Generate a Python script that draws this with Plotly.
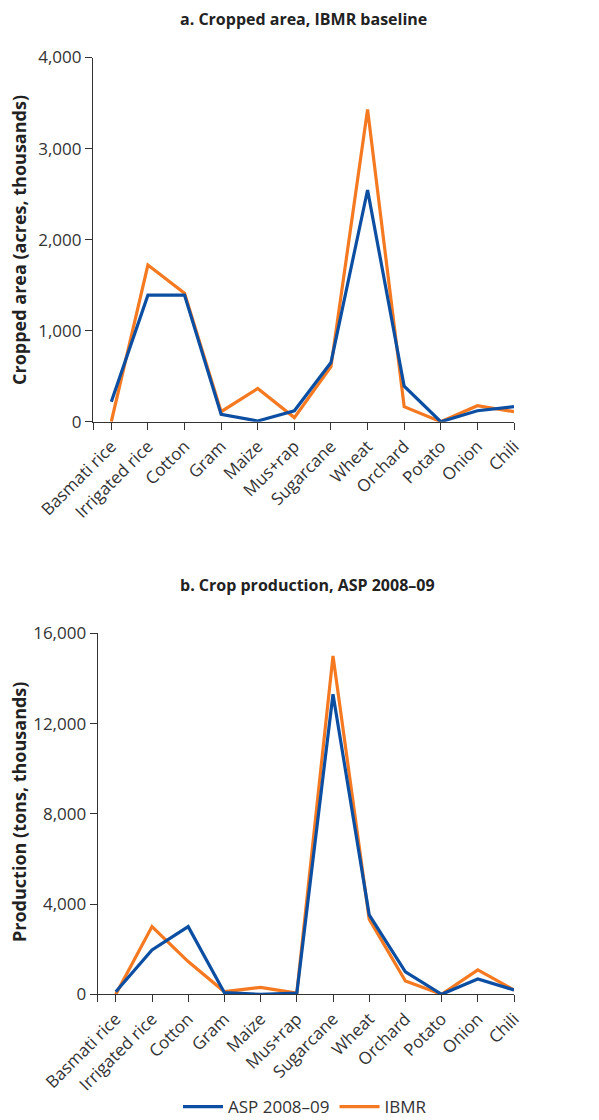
import plotly.graph_objects as go

categories = ["Basmati rice", "Irrigated rice", "Cotton", "Gram", "Maize", "Mus+rap",
              "Sugarcane", "Wheat", "Orchard", "Potato", "Onion", "Chili"]

area_asp = [220, 1390, 1390, 80, 8, 120, 650, 2545, 390, 0, 120, 165]
area_ibmr = [0, 1720, 1410, 110, 365, 45, 605, 3430, 165, 0, 175, 110]

prod_asp = [115, 1970, 3000, 70, 0, 50, 13300, 3520, 1000, 0, 680, 190]
prod_ibmr = [0, 3000, 1450, 115, 310, 50, 15000, 3330, 590, 0, 1080, 190]

area_ticks = [0, 1000, 2000, 3000, 4000]
prod_ticks = [0, 4000, 8000, 12000, 16000]

BLUE = "#0b4ea2"
ORANGE = "#f47920"
AX = "#333333"
FONT = "Open Sans"

OFF = 8  # default page body margin
W, H = 599 - OFF, 1120 - OFF
xi = list(range(len(categories)))

fig = go.Figure()

def px_x(p):
    return (p - OFF) / W

def px_y(p):
    return 1 - (p - OFF) / H

# panel a
fig.add_trace(go.Scatter(x=xi, y=area_ibmr, mode="lines", line=dict(color=ORANGE, width=3.2),
                         name="IBMR", legendrank=2, xaxis="x", yaxis="y"))
fig.add_trace(go.Scatter(x=xi, y=area_asp, mode="lines", line=dict(color=BLUE, width=3.2),
                         name="ASP 2008–09", legendrank=1, xaxis="x", yaxis="y"))
# panel b
fig.add_trace(go.Scatter(x=xi, y=prod_ibmr, mode="lines", line=dict(color=ORANGE, width=3.2),
                         name="IBMR", showlegend=False, xaxis="x2", yaxis="y2"))
fig.add_trace(go.Scatter(x=xi, y=prod_asp, mode="lines", line=dict(color=BLUE, width=3.2),
                         name="ASP 2008–09", showlegend=False, xaxis="x2", yaxis="y2"))

tickvals_x = [-0.5] + xi
ticktext_x = [""] + categories

xcommon = dict(range=[-0.5, 11], tickmode="array", tickvals=tickvals_x, ticktext=ticktext_x,
               tickangle=-45, showgrid=False, zeroline=False, showline=True, linecolor=AX,
               linewidth=1.2, ticks="outside", ticklen=7, tickcolor=AX, tickwidth=1.2,
               automargin=False,
               tickfont=dict(family=FONT, size=17, color="#333333"))
ycommon = dict(showgrid=False, zeroline=False, showline=True, linecolor=AX, linewidth=1.2,
               ticks="outside", ticklen=7, tickcolor=AX, tickwidth=1.2, tickformat=",",
               automargin=False,
               tickfont=dict(family=FONT, size=17, color="#333333"), tickmode="array")

fig.update_layout(
    width=W, height=H,
    margin=dict(l=0, r=0, t=0, b=0, autoexpand=False),
    plot_bgcolor="white", paper_bgcolor="white",
    xaxis=dict(domain=[px_x(93), px_x(514)], anchor="y", **xcommon),
    yaxis=dict(domain=[px_y(421.7), px_y(57.5)], anchor="x", range=[0, 4000],
               tickvals=area_ticks, **ycommon),
    xaxis2=dict(domain=[px_x(97.7), px_x(514)], anchor="y2", **xcommon),
    yaxis2=dict(domain=[px_y(994.3), px_y(633.3)], anchor="x2", range=[0, 16000],
                tickvals=prod_ticks, **ycommon),
    legend=dict(orientation="h", x=px_x(305), xanchor="center", y=px_y(1107), yanchor="middle",
                font=dict(family=FONT, size=17, color="#333333"), itemwidth=40,
                bgcolor="rgba(0,0,0,0)"),
    showlegend=True,
)

annots = [
    dict(text="<b>a. Cropped area, IBMR baseline</b>", x=px_x(303), y=px_y(19)),
    dict(text="<b>b. Crop production, ASP 2008–09</b>", x=px_x(307), y=px_y(585)),
]
for a in annots:
    fig.add_annotation(xref="paper", yref="paper", showarrow=False, xanchor="center",
                       yanchor="middle", font=dict(family=FONT, size=16, color="#222222"), **a)

fig.add_annotation(text="<b>Cropped area (acres, thousands)</b>", xref="paper", yref="paper",
                   x=px_x(19), y=px_y(240), textangle=-90, showarrow=False,
                   xanchor="center", yanchor="middle",
                   font=dict(family=FONT, size=18, color="#222222"))
fig.add_annotation(text="<b>Production (tons, thousands)</b>", xref="paper", yref="paper",
                   x=px_x(19), y=px_y(812), textangle=-90, showarrow=False,
                   xanchor="center", yanchor="middle",
                   font=dict(family=FONT, size=18, color="#222222"))

fig.write_html("out.html")
